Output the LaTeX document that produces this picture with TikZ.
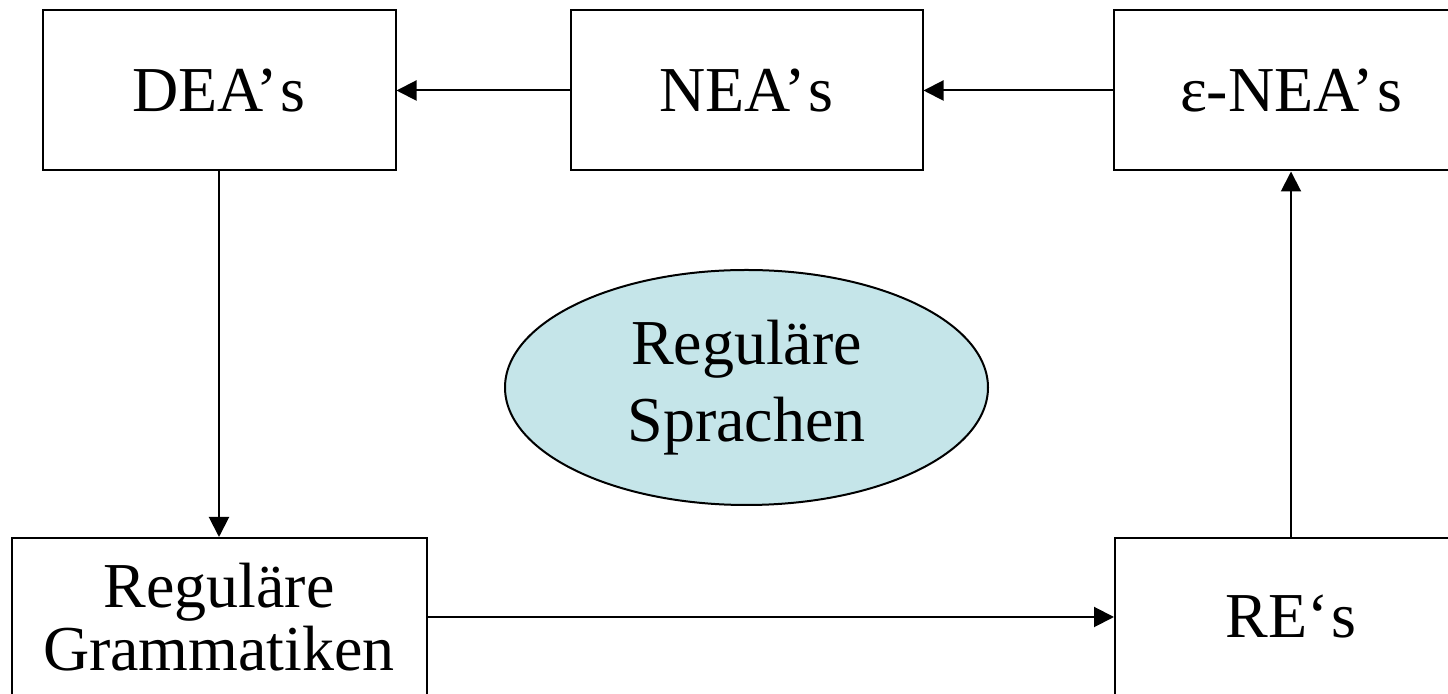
\documentclass[tikz,border=0pt]{standalone}
\usepackage{fontspec}
\setmainfont{Liberation Serif}
\usetikzlibrary{arrows.meta,shapes.geometric}
\definecolor{ellfill}{RGB}{197,229,233}
\newcommand{\apos}{’\kern1.5pt}
\newcommand{\lapos}{‘\kern1.5pt}
\tikzset{
  box/.style={draw=black, line width=1pt, fill=white, inner sep=0pt,
    minimum width=#1, minimum height=80pt, font=\fontsize{32}{32}\selectfont,
    text height=21pt, text depth=0pt},
  box/.default=176.5pt,
  conn/.style={line width=1pt, -{Triangle[length=10pt,width=10pt]}},
}
\begin{document}
\begin{tikzpicture}[x=0.5pt,y=-0.5pt]
\useasboundingbox (0,0) rectangle (1448,694);
\clip (0,0) rectangle (1448,694);
\node[box=176.5pt] (dea) at (219,90.5) {DEA\apos s};
\node[box=176pt] (nea) at (746.5,90.5) {NEA\apos s};
\node[box=177pt] (enea) at (1291,90.5) {ε-NEA\apos s};
\node[box=207.5pt, minimum height=79pt, text height=, text depth=, align=center,
      font=\fontsize{32}{31.5}\selectfont] (gram) at (219,617) {Reguläre\\Grammatiken};
\node[box=176pt, minimum height=79pt] (re) at (1291,617) {RE\lapos s};
\node[ellipse, draw=black, line width=1pt, fill=ellfill, inner sep=0pt,
      minimum width=241.5pt, minimum height=117.5pt, align=center,
      font=\fontsize{32}{38.5}\selectfont] (lang) at (746.5,387.5) {Reguläre\\Sprachen};
\draw[conn] (nea.west) -- (dea.east);
\draw[conn] (enea.west) -- (nea.east);
\draw[conn] (dea.south) -- (gram.north);
\draw[conn] (gram.east) -- (gram.east -| re.west);
\draw[conn] (re.north) -- (enea.south);
\end{tikzpicture}
\end{document}
